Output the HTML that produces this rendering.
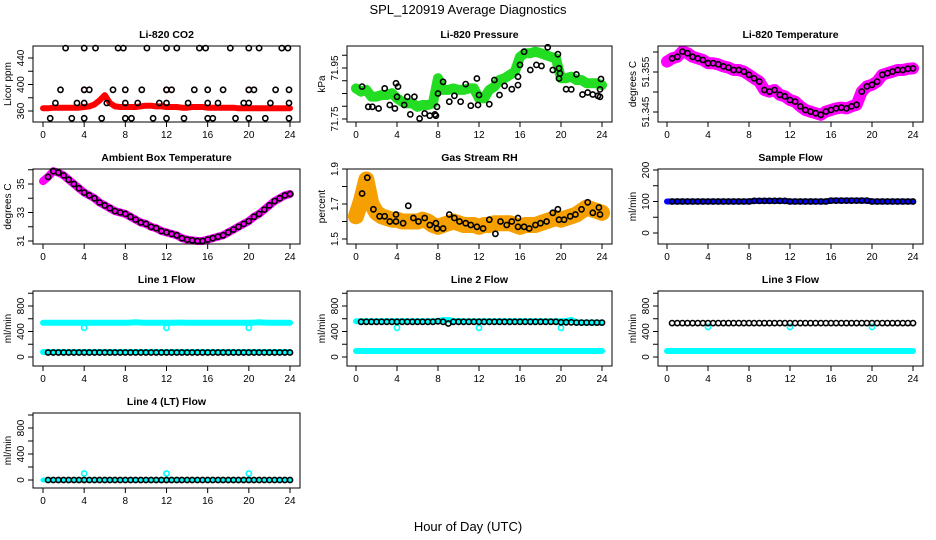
<!DOCTYPE html>
<html><head><meta charset="utf-8"><style>
html,body{margin:0;padding:0;background:#fff;}
svg{display:block;font-family:"Liberation Sans",Arial,sans-serif;}
</style></head><body>
<svg id="chart" width="936" height="540" viewBox="0 0 936 540"></svg>
<script>
// ---------- data ----------
const hours = [0,0.5,1,1.5,2,2.5,3,3.5,4,4.5,5,5.5,6,6.5,7,7.5,8,8.5,9,9.5,10,10.5,11,11.5,12,12.5,13,13.5,14,14.5,15,15.5,16,16.5,17,17.5,18,18.5,19,19.5,20,20.5,21,21.5,22,22.5,23,23.5,24];
const xTicks = [0,4,8,12,16,20,24];

const co2Red = [364,364,365,365,365,365,365,365,366,367,370,376,384,372,367,366,366,366,366,367,368,368,367,367,366,366,366,365,365,366,366,366,365,365,365,365,365,365,364,364,364,364,364,364,364,364,364,364,364];
const co2BlackX = [2.2,4,5.1,7.3,7.8,10.1,12,13,15.2,15.8,18.2,20,21,23.2,23.8, 1.7,4,4.5,6.8,8,9.6,12,12.5,14.7,16,17.5,20,20.5,22.6,23.9, 1.2,3.3,4,6.2,8,9.2,11.3,12,14.1,16,17,19.5,20,22.1,23.9, 0.7,2.8,4,5.7,8,8.6,10.7,12,13.7,16,16.5,18.7,20,21.6,23.9];
const co2BlackY = [455,455,455,455,455,455,455,455,455,455,455,455,455,455,455, 392,392,392,392,392,392,392,392,392,392,392,392,392,392,392, 372,372,372,372,372,372,372,372,372,372,372,372,372,372,372, 349,349,349,349,349,349,349,349,349,349,349,349,349,349,349];
const co2RedX = [4,12,20];
const co2RedY = [392,392,392];

const pressGreen = [71.870,71.857,71.864,71.838,71.838,71.844,71.844,71.851,71.831,71.818,71.811,71.811,71.798,71.805,71.805,71.811,71.910,71.864,71.864,71.870,71.864,71.864,71.870,71.870,71.831,71.831,71.864,71.877,71.903,71.910,71.923,71.936,71.994,72.008,72.008,72.014,72.008,72.001,71.994,71.988,71.910,71.910,71.916,71.903,71.903,71.890,71.890,71.890,71.883];
const pressBlackX = [0.6,1.2,1.6,2.2,2.8,3.3,3.8,3.9,4,4.1,4.7,5,5.3,5.7,6.2,6.7,7.2,7.7,7.8,7.9,8,8.5,9.1,9.6,10.2,10.7,11.2,11.8,11.9,12,13,13.5,14,14.5,15.2,15.8,15.8,16,16.4,17,17.6,18.1,18.7,19.2,19.7,19.8,19.9,19.8,20.5,21,21.5,22.1,22.6,23.1,23.6,23.8,23.9,23.8];
const pressBlackY = [71.877,71.798,71.798,71.791,71.870,71.805,71.791,71.890,71.837,71.877,71.805,71.837,71.768,71.837,71.752,71.772,71.763,71.768,71.763,71.798,71.850,71.896,71.818,71.841,71.818,71.887,71.802,71.909,71.805,71.844,71.808,71.903,71.844,71.880,71.867,71.883,71.916,71.962,72.014,71.942,71.962,71.958,72.031,71.942,72.004,71.949,71.929,71.909,71.867,71.866,71.925,71.846,71.854,71.846,71.841,71.866,71.907,71.837];

const tempMag = [51.3576,51.3584,51.3588,51.3601,51.3597,51.3588,51.3584,51.3580,51.3572,51.3572,51.3569,51.3564,51.3561,51.3555,51.3555,51.3551,51.3543,51.3534,51.3526,51.3505,51.3501,51.3505,51.3493,51.3489,51.3480,51.3476,51.3464,51.3455,51.3451,51.3447,51.3443,51.3451,51.3455,51.3459,51.3461,51.3459,51.3464,51.3468,51.3501,51.3514,51.3518,51.3526,51.3543,51.3547,51.3551,51.3555,51.3555,51.3558,51.3559];

const ambMag = [35.2,35.5,35.9,35.8,35.6,35.3,35.0,34.7,34.4,34.2,34.0,33.7,33.5,33.3,33.1,33.0,32.9,32.7,32.5,32.3,32.2,32.0,31.9,31.7,31.6,31.5,31.4,31.2,31.1,31.05,31.0,31.0,31.1,31.2,31.3,31.4,31.6,31.8,32.0,32.2,32.4,32.7,32.9,33.2,33.5,33.8,34.0,34.2,34.3];

const rhOrange = [1.63,1.72,1.84,1.70,1.65,1.63,1.62,1.61,1.61,1.60,1.60,1.60,1.60,1.61,1.60,1.58,1.57,1.58,1.59,1.60,1.59,1.58,1.58,1.58,1.57,1.58,1.58,1.59,1.59,1.59,1.59,1.58,1.57,1.58,1.58,1.58,1.59,1.60,1.61,1.62,1.61,1.62,1.63,1.64,1.66,1.68,1.67,1.66,1.65];
const rhBlackX = [0.6,1.1,1.7,2.3,2.8,3.3,3.9,3.9,4.6,5.1,5.6,6.1,6.7,7.2,7.8,7.9,8.5,9.1,9.6,10.1,10.7,11.2,11.8,12.4,13,13.6,14.1,14.7,15.2,15.8,15.8,16.4,16.9,17.5,18,18.6,19.2,19.7,19.8,20.3,20.9,21.4,22,22.6,23.1,23.7,23.8];
const rhBlackY = [1.76,1.85,1.67,1.63,1.63,1.60,1.64,1.60,1.59,1.69,1.62,1.60,1.62,1.58,1.59,1.56,1.56,1.64,1.62,1.60,1.59,1.58,1.57,1.56,1.61,1.53,1.60,1.58,1.60,1.62,1.57,1.57,1.56,1.58,1.59,1.60,1.65,1.67,1.61,1.61,1.63,1.64,1.67,1.71,1.65,1.68,1.64];

const sampleBlue = [100,100,100,100,100,100,100,100,100,100,100,100,100,100,100,100,100,102,102,102,102,102,102,102,100,100,100,100,100,100,100,100,103,103,103,103,103,103,103,103,100,100,100,100,100,100,100,100,100];

const line1Cyan = [536,536,536,536,536,536,536,536,536,536,536,536,536,536,536,536,536,540,545,540,538,538,538,536,536,536,540,540,538,538,538,538,538,538,538,538,538,538,538,538,536,540,545,540,536,536,536,536,536];
const line1CyanLow = [78,78,78,78,78,78,78,78,78,78,78,78,78,78,78,78,78,78,78,78,78,78,78,78,78,78,78,78,78,78,78,78,78,78,78,78,78,78,78,78,78,78,78,78,78,78,78,78,78];
const line1Black = [70,70,70,70,70,70,70,70,70,70,70,70,70,70,70,70,70,70,70,70,70,70,70,70,70,70,70,70,70,70,70,70,70,70,70,70,70,70,70,70,70,70,70,70,70,70,70,70,70];
const dipX = [4,12,20];
const line1DipY = [458,458,458];

const line2Black = [552,552,552,552,552,552,552,552,552,552,552,552,552,552,552,552,560,552,525,552,552,552,552,552,552,552,552,552,552,552,552,552,552,552,552,552,552,552,552,552,545,545,545,540,540,540,540,540,540];
const line2CyanHigh = [560,560,560,560,560,560,560,560,560,560,560,560,560,560,560,560,565,580,580,565,565,560,560,560,560,560,560,560,560,560,560,560,560,560,560,560,560,560,560,560,560,565,580,545,540,540,540,540,540];
const line2CyanLow = [94,94,94,94,94,94,94,94,94,94,94,94,94,94,94,94,94,94,94,94,94,94,94,94,94,94,94,94,94,94,94,94,94,94,94,94,94,94,94,94,94,94,94,94,94,94,94,94,94];
const line2DipY = [458,458,458];

const line3Black = [532,532,532,532,532,532,532,532,532,532,532,532,532,532,532,532,532,532,532,532,532,532,532,532,532,532,532,532,532,532,532,532,532,532,532,532,532,532,532,532,532,532,532,532,532,532,532,532,532];
const line3CyanLow = [94,94,94,94,94,94,94,94,94,94,94,94,94,94,94,94,94,94,94,94,94,94,94,94,94,94,94,94,94,94,94,94,94,94,94,94,94,94,94,94,94,94,94,94,94,94,94,94,94];
const line3DipY = [470,470,470];

const line4Black = [0,0,0,0,0,0,0,0,0,0,0,0,0,0,0,0,0,0,0,0,0,0,0,0,0,0,0,0,0,0,0,0,0,0,0,0,0,0,0,0,0,0,0,0,0,0,0,0,0];
const line4BumpY = [100,100,100];

// ---------- drawing ----------
const NS = 'http://www.w3.org/2000/svg';
const svg = document.getElementById('chart');
function mk(tag, attrs, parent){
  const e = document.createElementNS(NS, tag);
  for (const k in attrs) e.setAttribute(k, attrs[k]);
  (parent || svg).appendChild(e);
  return e;
}
const cols = [{L:33,R:300,x0:43,x1:290},{L:347,R:612,x0:356,x1:602},{L:658,R:923,x0:667,x1:913}];
const rows = [{T:46,B:122},{T:169,B:244},{T:291,B:366},{T:413,B:488}];

function makePanel(name, title, ytitle, col, row, ref, yTicks, yLabels){
  const c = cols[col], r = rows[row];
  const g = mk('g', {});
  
  
  const xs = h => c.x0 + (h / 24) * (c.x1 - c.x0);
  const ys = v => ref[1] + (v - ref[0]) * (ref[3] - ref[1]) / (ref[2] - ref[0]);
  const t = mk('text', {x:(c.L + c.R) / 2, y:r.T - 8, 'text-anchor':'middle', 'font-size':'10.5', 'font-weight':'bold'}, g);
  t.textContent = title;
  
  
  const plot = mk('g', {}, g);
  
  
  const box = mk('rect', {x:c.L, y:r.T, width:c.R - c.L, height:r.B - r.T, fill:'none', stroke:'#000', 'stroke-width':1}, g);
  
  
  const xa = mk('g', {}, g);
  
  
  mk('line', {x1:xs(0), x2:xs(24), y1:r.B, y2:r.B, stroke:'#000'}, xa);
  xTicks.forEach(h => {
    mk('line', {x1:xs(h), x2:xs(h), y1:r.B, y2:r.B + 5, stroke:'#000'}, xa);
    const lt = mk('text', {x:xs(h), y:r.B + 16, 'text-anchor':'middle', 'font-size':'10'}, xa);
    lt.textContent = h;
  });
  const ya = mk('g', {}, g);
  
  
  mk('line', {x1:c.L, x2:c.L, y1:ys(yTicks[0]), y2:ys(yTicks[yTicks.length - 1]), stroke:'#000'}, ya);
  yTicks.forEach(v => mk('line', {x1:c.L - 5, x2:c.L, y1:ys(v), y2:ys(v), stroke:'#000'}, ya));
  yLabels.forEach(l => {
    const yy = ys(l[0]);
    const lt = mk('text', {x:c.L - 9, y:yy, 'text-anchor':'middle', 'font-size':'10', transform:'rotate(-90 ' + (c.L - 9) + ' ' + yy + ')'}, ya);
    lt.textContent = l[1];
  });
  const yt = mk('text', {x:c.L - 22, y:(r.T + r.B) / 2, 'text-anchor':'middle', 'font-size':'10', transform:'rotate(-90 ' + (c.L - 22) + ' ' + ((r.T + r.B) / 2) + ')'}, ya);
  yt.textContent = ytitle;
  
  
  return {plot, xs, ys};
}
function band(p, name, xArr, yArr, color, w){
  const pts = xArr.map((h, i) => p.xs(h).toFixed(1) + ',' + p.ys(yArr[i]).toFixed(1)).join(' ');
  const pl = mk('polyline', {points:pts, fill:'none', stroke:color, 'stroke-width':w, 'stroke-linejoin':'round', 'stroke-linecap':'round'}, p.plot);
  
  
}
function circles(p, name, xArr, yArr, color, r, sw){
  const g = mk('g', {}, p.plot);
  
  
  xArr.forEach((h, i) => {
    mk('circle', {cx:p.xs(h).toFixed(1), cy:p.ys(yArr[i]).toFixed(1), r:r || 2.6, fill:'none', stroke:color, 'stroke-width':sw || 1.6}, g);
  });
}

// main title
const mt = mk('text', {x:468, y:14, 'text-anchor':'middle', 'font-size':'13'});
mt.textContent = 'SPL_120919  Average Diagnostics';


const xl = mk('text', {x:468, y:531, 'text-anchor':'middle', 'font-size':'13'});
xl.textContent = 'Hour of Day (UTC)';



// CO2
let p = makePanel('co2', 'Li-820 CO2', 'Licor ppm', 0, 0, [360,111,440,58], [360,380,400,420,440], [[360,'360'],[400,'400'],[440,'440']]);
band(p, 'co2-red-series', hours, co2Red, '#ff0000', 6);
circles(p, 'co2-red-points', co2RedX, co2RedY, '#ff0000');
circles(p, 'co2-black-points', co2BlackX, co2BlackY, '#000');

// Pressure
p = makePanel('pressure', 'Li-820 Pressure', 'kPa', 1, 0, [71.75,119,71.95,68], [71.75,71.80,71.85,71.90,71.95,72.00], [[71.75,'71.75'],[71.95,'71.95']]);
band(p, 'pressure-green-series', hours, pressGreen, '#22dd22', 10);
circles(p, 'pressure-black-points', pressBlackX, pressBlackY, '#000');

// Temperature
p = makePanel('li820-temperature', 'Li-820 Temperature', 'degrees C', 2, 0, [51.345,112,51.355,72], [51.345,51.35,51.355,51.36], [[51.345,'51.345'],[51.355,'51.355']]);
band(p, 'temperature-magenta-series', hours, tempMag, '#ff00ff', 12);
circles(p, 'temperature-black-points', hours.slice(1), tempMag.slice(1), '#000');

// Ambient
p = makePanel('ambient', 'Ambient Box Temperature', 'degrees C', 0, 1, [31,241,35,184], [31,32,33,34,35,36], [[31,'31'],[33,'33'],[35,'35']]);
band(p, 'ambient-magenta-series', hours, ambMag, '#ff00ff', 8);
circles(p, 'ambient-black-points', hours.slice(1), ambMag.slice(1), '#000');

// RH
p = makePanel('gas-rh', 'Gas Stream RH', 'percent', 1, 1, [1.5,239,1.9,169], [1.5,1.6,1.7,1.8,1.9], [[1.5,'1.5'],[1.7,'1.7'],[1.9,'1.9']]);
band(p, 'rh-orange-series', hours, rhOrange, '#f5a000', 16);
circles(p, 'rh-black-points', rhBlackX, rhBlackY, '#000');

// Sample flow
p = makePanel('sample-flow', 'Sample Flow', 'ml/min', 2, 1, [0,233,200,170], [0,50,100,150,200], [[0,'0'],[100,'100'],[200,'200']]);
band(p, 'sample-blue-series', hours, sampleBlue, '#0000ff', 6);
circles(p, 'sample-black-points', hours.slice(1), sampleBlue.slice(1), '#000');

const flowTicks = [0,200,400,600,800,1000];
const flowLabels = [[0,'0'],[400,'400'],[800,'800']];
// Line 1
p = makePanel('line1-flow', 'Line 1 Flow', 'ml/min', 0, 2, [0,357,800,306], flowTicks, flowLabels);
band(p, 'line1-cyan-high', hours, line1Cyan, '#00ffff', 6);
band(p, 'line1-cyan-low', hours, line1CyanLow, '#00ffff', 6);
circles(p, 'line1-cyan-dips', dipX, line1DipY, '#00ffff');
circles(p, 'line1-black-points', hours.slice(1), line1Black.slice(1), '#000');

// Line 2
p = makePanel('line2-flow', 'Line 2 Flow', 'ml/min', 1, 2, [0,357,800,306], flowTicks, flowLabels);
band(p, 'line2-cyan-high', hours, line2CyanHigh, '#00ffff', 6);
band(p, 'line2-cyan-low', hours, line2CyanLow, '#00ffff', 6);
circles(p, 'line2-cyan-dips', dipX, line2DipY, '#00ffff');
circles(p, 'line2-black-points', hours.slice(1), line2Black.slice(1), '#000');

// Line 3
p = makePanel('line3-flow', 'Line 3 Flow', 'ml/min', 2, 2, [0,357,800,306], flowTicks, flowLabels);
band(p, 'line3-cyan-low', hours, line3CyanLow, '#00ffff', 6);
circles(p, 'line3-cyan-dips', dipX, line3DipY, '#00ffff');
circles(p, 'line3-black-points', hours.slice(1), line3Black.slice(1), '#000');

// Line 4
p = makePanel('line4-flow', 'Line 4 (LT) Flow', 'ml/min', 0, 3, [0,480,800,428], flowTicks, flowLabels);
band(p, 'line4-cyan-series', hours, line4Black, '#00ffff', 5);
circles(p, 'line4-cyan-bumps', dipX, line4BumpY, '#00ffff');
circles(p, 'line4-black-points', hours.slice(1), line4Black.slice(1), '#000');
</script>
</body></html>
